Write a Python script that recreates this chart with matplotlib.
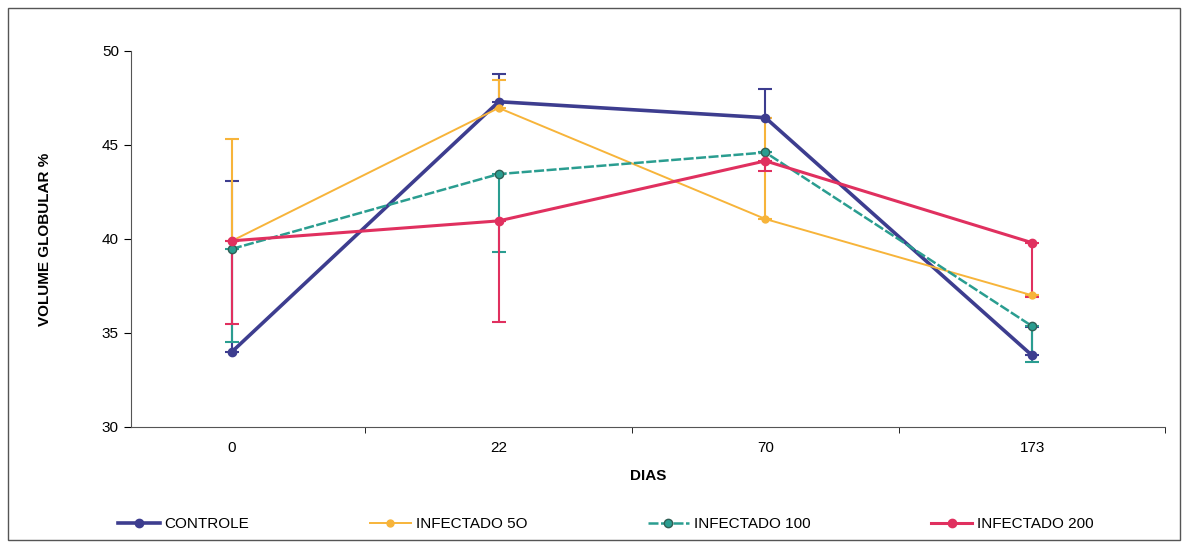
import numpy as np
import matplotlib
matplotlib.use('Agg')
import matplotlib.pyplot as plt
from matplotlib.patches import Rectangle
from matplotlib.lines import Line2D

dias = ['0', '22', '70', '173']

controle = [34.0, 47.3, 46.45, 33.8]
controle_lo = [0, 0, 0, 0]
controle_hi = [9.1, 1.5, 1.55, 1.5]

inf50 = [39.9, 46.97, 41.06, 37.0]
inf50_lo = [0, 0, 0, 0]
inf50_hi = [5.4, 1.5, 5.35, 0]

inf100 = [39.47, 43.45, 44.6, 35.36]
inf100_lo = [4.97, 4.15, 0, 1.9]
inf100_hi = [0, 0, 0, 0]

inf200 = [39.9, 40.96, 44.15, 39.8]
inf200_lo = [4.4, 5.36, 0.55, 2.9]
inf200_hi = [0, 0, 0, 0]

plt.rcParams['font.family'] = ['Liberation Sans', 'DejaVu Sans']

fig = plt.figure(figsize=(11.88, 5.48), dpi=100)
ax = fig.add_axes([0.110, 0.221, 0.871, 0.686])
x = np.arange(len(dias))

series = [
    ('CONTROLE', controle, controle_lo, controle_hi,
     dict(color='#3d3d8f', lw=2.6, marker='o', ms=6, ls='-', mec='#3d3d8f')),
    ('INFECTADO 5O', inf50, inf50_lo, inf50_hi,
     dict(color='#f7b43a', lw=1.4, marker='o', ms=5, ls='-', mec='#f7b43a')),
    ('INFECTADO 100', inf100, inf100_lo, inf100_hi,
     dict(color='#2a9d90', lw=1.8, marker='o', ms=6, ls=(0, (4, 1)), mec='#2f5f55')),
    ('INFECTADO 200', inf200, inf200_lo, inf200_hi,
     dict(color='#e0305f', lw=2.2, marker='o', ms=6, ls='-', mec='#e0305f')),
]

handles = []
for name, vals, lo, hi, st in series:
    ax.errorbar(x, vals, yerr=[lo, hi], capsize=5, elinewidth=1.5,
                capthick=1.5, ecolor=st['color'], label=name, **st)
    handles.append(Line2D([], [], **st))

ax.set_xlim(-0.38, 3.5)
ax.set_ylim(30, 50)
ax.set_yticks([30, 35, 40, 45, 50])
ax.set_xticks(x)
ax.set_xticklabels(dias)
ax.set_xticks([0.5, 1.5, 2.5, 3.5], minor=True)
ax.tick_params(axis='x', which='major', length=0, pad=10, labelsize=11)
ax.tick_params(axis='x', which='minor', length=4, direction='out')
ax.tick_params(axis='y', length=5, direction='out', labelsize=11)
for s in ['top', 'right']:
    ax.spines[s].set_visible(False)
for s in ['left', 'bottom']:
    ax.spines[s].set_color('#555555')

ax.set_xlabel('DIAS', fontsize=11, fontweight='bold', labelpad=10)
ax.set_ylabel('VOLUME GLOBULAR %', fontsize=11, fontweight='bold', labelpad=36)

fig.legend(handles=handles, labels=[s[0] for s in series], loc='center',
           bbox_to_anchor=(0.51, 0.043), ncol=4, frameon=False,
           fontsize=11, columnspacing=7.9, handlelength=2.7, handletextpad=0.3)

fig.patches.append(Rectangle((0.007, 0.014), 0.986, 0.972, transform=fig.transFigure,
                             fill=False, edgecolor='#555555', lw=1))

fig.savefig('out.png', dpi=100)
